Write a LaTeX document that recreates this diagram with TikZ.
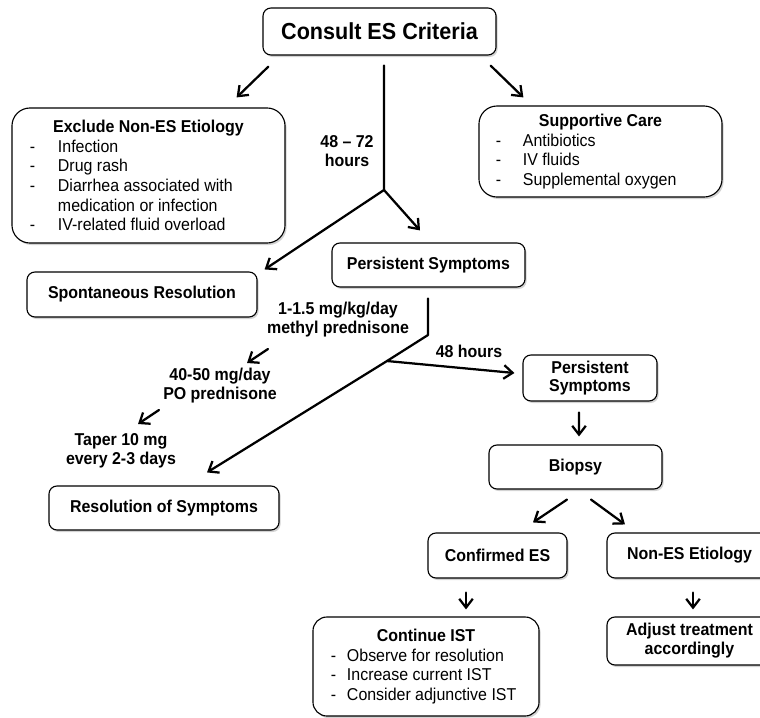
\documentclass[tikz,border=0pt]{standalone}
\usepackage{fontspec}
\setmainfont{Liberation Sans}[FakeStretch=0.93]
\usetikzlibrary{arrows.meta,calc,shadows}

\tikzset{
  box/.style={draw=black, line width=0.8pt, rounded corners=0.2cm, fill=white,
    inner sep=0pt, align=center, font=\fontsize{12.2}{14}\selectfont,
    drop shadow={opacity=0.35, shadow xshift=0.04cm, shadow yshift=-0.05cm}},
  bigbox/.style={box, rounded corners=0.45cm},
  lbl/.style={align=center, inner sep=0pt, font=\fontsize{12.2}{13.5}\selectfont\bfseries},
  link/.style={line width=1.6pt, line cap=round, line join=round},
  arr/.style={link, -{Straight Barb[length=0.22cm,width=0.34cm]}},
}
\newcommand{\listitem}[3]{\makebox[#1][l]{\makebox[#2][l]{-}#3}}
\newcommand{\listmore}[3]{\makebox[#1][l]{\hspace{#2}#3}}

\begin{document}
\begin{tikzpicture}[x=0.025cm, y=-0.025cm]
\useasboundingbox (0,0) rectangle (760,717);

% boxes
\node[box, minimum width=5.825cm, minimum height=1.175cm, font=\fontsize{16.5}{18}\selectfont\bfseries] (crit) at (379.5,31.5) {Consult ES Criteria};
\node[bigbox, minimum width=6.825cm, minimum height=3.375cm] (excl) at (148.5,175.5) {\textbf{Exclude Non-ES Etiology}\\
  \listitem{5.925cm}{0.7cm}{Infection}\\
  \listitem{5.925cm}{0.7cm}{Drug rash}\\
  \listitem{5.925cm}{0.7cm}{Diarrhea associated with}\\
  \listmore{5.925cm}{0.7cm}{medication or infection}\\
  \listitem{5.925cm}{0.7cm}{IV-related fluid overload}};
\node[bigbox, minimum width=6.075cm, minimum height=2.275cm] (supp) at (600.5,151.5) {\textbf{Supportive Care}\\
  \listitem{5.225cm}{0.675cm}{Antibiotics}\\
  \listitem{5.225cm}{0.675cm}{IV fluids}\\
  \listitem{5.225cm}{0.675cm}{Supplemental oxygen}};
\node[box, minimum width=5.75cm, minimum height=1.125cm, font=\fontsize{12.2}{14}\selectfont\bfseries] (spont) at (142,294.5) {Spontaneous Resolution};
\node[box, minimum width=4.825cm, minimum height=1.1cm, font=\fontsize{12.2}{14}\selectfont\bfseries] (pers1) at (428.5,265) {Persistent Symptoms};
\node[box, minimum width=5.75cm, minimum height=1.1cm, font=\fontsize{12.2}{14}\selectfont\bfseries] (res) at (164,508) {Resolution of Symptoms};
\node[box, minimum width=3.35cm, minimum height=1.15cm, font=\fontsize{12.2}{13}\selectfont\bfseries] (pers2) at (590,378) {Persistent\\Symptoms};
\node[box, minimum width=4.325cm, minimum height=1.1cm, font=\fontsize{12.2}{14}\selectfont\bfseries] (bio) at (575.5,467) {Biopsy};
\node[box, minimum width=3.475cm, minimum height=1.125cm, font=\fontsize{12.2}{14}\selectfont\bfseries] (conf) at (497.5,555.5) {Confirmed ES};
\node[box, minimum width=4.125cm, minimum height=1.125cm, font=\fontsize{12.2}{14}\selectfont\bfseries] (nones) at (689.5,555.5) {Non-ES Etiology};
\node[box, minimum width=4.125cm, minimum height=1.2cm, font=\fontsize{12.2}{13.5}\selectfont\bfseries] (adj) at (689.5,641) {Adjust treatment\\accordingly};
\node[bigbox, rounded corners=0.35cm, minimum width=5.65cm, minimum height=2.475cm] (ist) at (426,666.5) {\textbf{Continue IST}\\
  \listitem{4.75cm}{0.4cm}{Observe for resolution}\\
  \listitem{4.75cm}{0.4cm}{Increase current IST}\\
  \listitem{4.75cm}{0.4cm}{Consider adjunctive IST}};

% labels on the branches
\node[lbl] (hrs) at (347,151) {48 -- 72\\hours};
\node[lbl] (lmp) at (338,320) {1-1.5 mg/kg/day\\methyl prednisone};
\node[lbl] (lpo) at (220,386) {40-50 mg/day\\PO prednisone};
\node[lbl] (ltap) at (121,451) {Taper 10 mg\\every 2-3 days};
\node[lbl] (l48) at (469,351) {48 hours};

% junctions
\coordinate (j1) at (384,190);
\coordinate (k2) at (428,335);
\coordinate (j2) at (387,361);

% connectors
\draw[arr] ($(crit.south west)+(6,11)$) -- ($(excl.north east)+(-49,-10)$);
\draw[arr] ($(crit.south east)+(-6,10)$) -- ($(supp.north west)+(45,-8)$);
\draw[link] ($(crit.south)+(4.5,10)$) -- (j1);
\draw[arr] (j1) -- ($(spont.north east)+(7,-2)$);
\draw[arr] (j1) -- ($(pers1.north)+(-8.5,-12)$);
\draw[link] ($(pers1.south)+(-0.5,11)$) -- (k2) -- (j2);
\draw[arr] (j2) -- ($(res.north)+(43,-13)$);
\draw[arr] (j2) -- ($(pers2.west)+(-8,-5)$);
\draw[arr] ($(lmp)+(-70,29)$) -- ($(lpo)+(27,-23)$);
\draw[arr] ($(lpo)+(-61,24)$) -- ($(ltap)+(17,-27)$);
\draw[arr] ($(pers2.south)+(-11,11)$) -- ($(bio.north)+(3.5,-8)$);
\draw[arr] ($(bio.south)+(-8.5,10)$) -- ($(conf.north)+(35.5,-10)$);
\draw[arr] ($(bio.south)+(15.5,10)$) -- ($(nones.north)+(-64.5,-8)$);
\draw[arr] ($(conf.south)+(-31.5,14)$) -- ($(ist.north)+(40,-7)$);
\draw[arr] ($(nones.south)+(3.5,14)$) -- ($(adj.north)+(3.5,-7)$);
\end{tikzpicture}
\end{document}
